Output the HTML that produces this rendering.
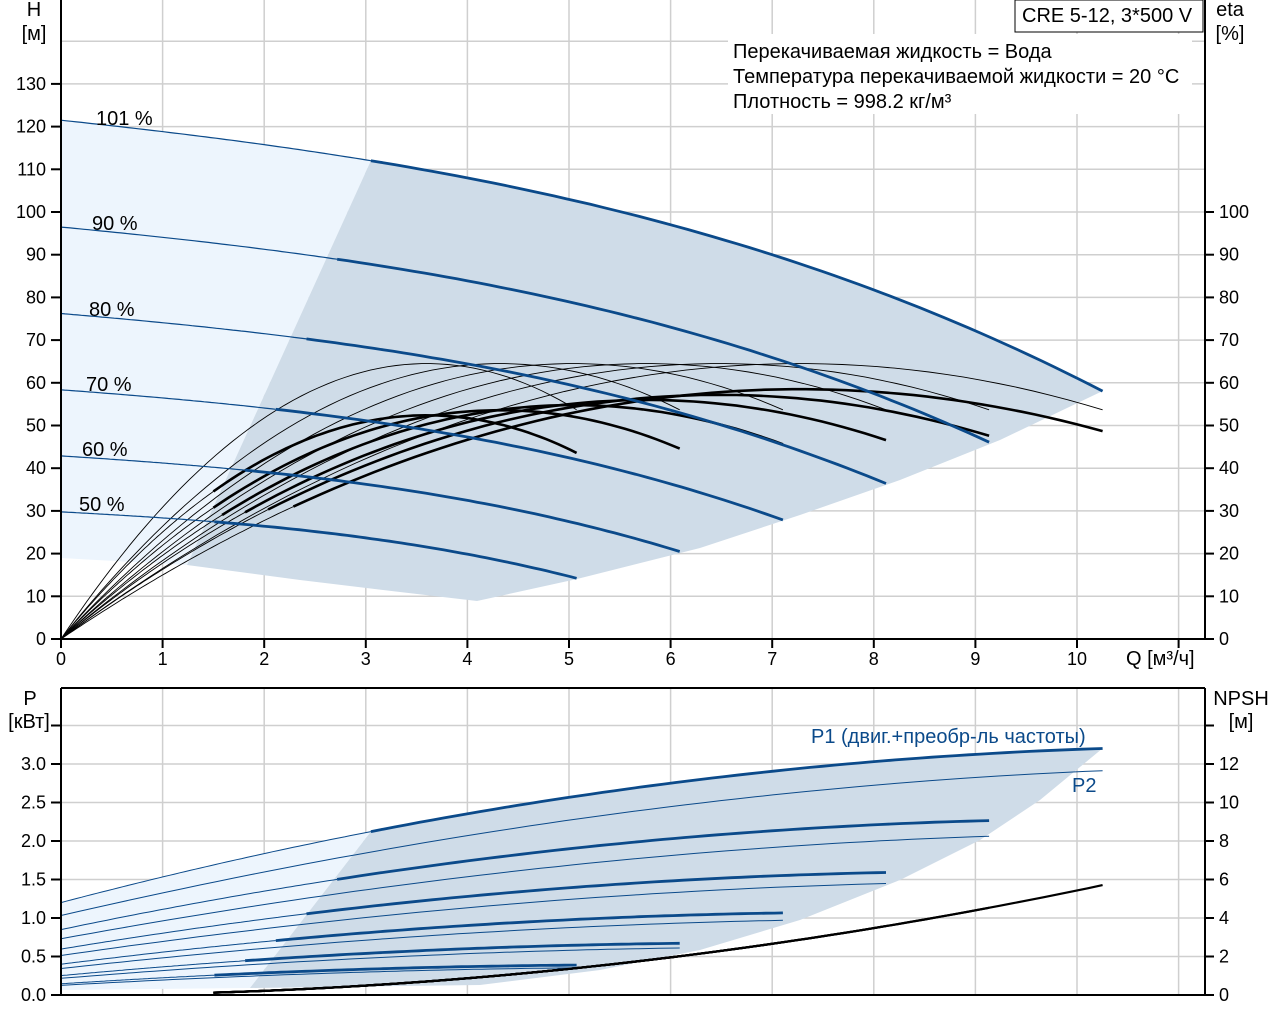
<!DOCTYPE html>
<html><head><meta charset="utf-8"><style>
html,body{margin:0;padding:0;background:#fff;width:1280px;height:1024px;overflow:hidden}
svg text{font-family:"Liberation Sans",Arial,sans-serif;font-size:20px;fill:#000}
svg text.t{font-size:18px}
</style></head><body>
<svg id="s" width="1280" height="1024" xmlns="http://www.w3.org/2000/svg"></svg>
<script>
const S=document.getElementById('s');let h='';
const X=q=>61+101.6*q, Y=v=>639-4.27*v, YP=p=>995-77*p, YN=n=>995-19.25*n;
function H1(x){return 119.1-2.506*x-0.119*x*x-0.02343*x*x*x}
function Hs(s,q){return s*s*H1(q/s)}
function P1(x){return 1.165+0.3409*x-0.01473*x*x}
function P2(x){return P1(x)*(0.86+0.05*x/10.15)}
function path(f,a,b,yf,n=60){let d='';for(let i=0;i<=n;i++){const q=a+(b-a)*i/n;d+=(i?'L':'M')+X(q).toFixed(1)+','+yf(f(q)).toFixed(1)}return d}
const sp=[1.01,0.9,0.8,0.7,0.6,0.5];
for(let i=0;i<=11;i++){h+=`<line x1="${X(i)}" y1="0" x2="${X(i)}" y2="639" stroke="#cfcfcf" stroke-width="1.5"/>`}
for(let v=10;v<=140;v+=10){h+=`<line x1="61" y1="${Y(v)}" x2="1205" y2="${Y(v)}" stroke="#cfcfcf" stroke-width="1.5"/>`}
let lt='M61,'+Y(Hs(1.01,0)).toFixed(1);for(let i=0;i<=30;i++){const q=3.05*i/30;lt+='L'+X(q).toFixed(1)+','+Y(Hs(1.01,q)).toFixed(1)}
lt+='L187,565L61,558Z';h+=`<path d="${lt}" fill="#edf5fd"/>`;
let dk='M'+X(3.05)+','+Y(Hs(1.01,3.05));for(let i=0;i<=40;i++){const q=3.05+(10.25-3.05)*i/40;dk+='L'+X(q).toFixed(1)+','+Y(Hs(1.01,q)).toFixed(1)}
dk+='L1000,440L900,480L800,515L700,548L577,579L477,601L400,592L300,580L187,565Z';h+=`<path d="${dk}" fill="#cfdce8"/>`;
h+=`<rect x="728" y="34" width="464" height="80" fill="#fff"/>`;
sp.forEach(s=>{const pk=64.5,p=7.2*s;h+=`<path d="${path(q=>pk*(1-Math.pow(1-q/p,2)),0,10.15*s,Y)}" fill="none" stroke="#000" stroke-width="0.9"/>`});
sp.forEach(s=>{const pk=58.5-(1.01-s)*12,p=7.2*s,f=q=>pk*(1-Math.pow(1-q/p,2)),st=Math.max(1.5,3.02*s*0.75);
h+=`<path d="${path(f,0,st,Y)}" fill="none" stroke="#000" stroke-width="0.9"/>`;
h+=`<path d="${path(f,st,10.15*s,Y)}" fill="none" stroke="#000" stroke-width="2.6"/>`});
sp.forEach(s=>{h+=`<path d="${path(q=>Hs(s,q),0,3.02*s,Y)}" fill="none" stroke="#0b4a8a" stroke-width="1.2"/>`;
h+=`<path d="${path(q=>Hs(s,q),3.02*s,10.15*s,Y)}" fill="none" stroke="#0b4a8a" stroke-width="2.8"/>`});
[['101 %',96,125],['90 %',92,230],['80 %',89,316],['70 %',86,391],['60 %',82,456],['50 %',79,511]].forEach(a=>h+=`<text x="${a[1]}" y="${a[2]}">${a[0]}</text>`);
h+=`<line x1="61" y1="0" x2="61" y2="640" stroke="#000" stroke-width="2"/><line x1="60" y1="639" x2="1206" y2="639" stroke="#000" stroke-width="2"/><line x1="1205" y1="0" x2="1205" y2="640" stroke="#000" stroke-width="2"/>`;
for(let v=0;v<=130;v+=10){h+=`<line x1="51" y1="${Y(v)}" x2="61" y2="${Y(v)}" stroke="#000" stroke-width="2"/><text class="t" x="46" y="${Y(v)+6}" text-anchor="end">${v}</text>`;
if(v<=100)h+=`<line x1="1205" y1="${Y(v)}" x2="1214" y2="${Y(v)}" stroke="#000" stroke-width="2"/><text class="t" x="1219" y="${Y(v)+6}">${v}</text>`}
for(let i=0;i<=11;i++){h+=`<line x1="${X(i)}" y1="639" x2="${X(i)}" y2="648" stroke="#000" stroke-width="2"/>`;if(i<=10)h+=`<text class="t" x="${X(i)}" y="665" text-anchor="middle">${i}</text>`}
h+=`<text x="1126" y="665">Q [м³/ч]</text><text x="34" y="16" text-anchor="middle">H</text><text x="34" y="40" text-anchor="middle">[м]</text>`;
h+=`<text x="1230" y="16" text-anchor="middle">eta</text><text x="1230" y="40" text-anchor="middle">[%]</text>`;
h+=`<rect x="1015" y="0" width="188" height="32" fill="#fff" stroke="#000" stroke-width="1"/><text x="1022" y="22">CRE 5-12, 3*500 V</text>`;
h+=`<text x="733" y="58">Перекачиваемая жидкость = Вода</text><text x="733" y="83">Температура перекачиваемой жидкости = 20 °C</text><text x="733" y="108">Плотность = 998.2 кг/м³</text>`;
for(let i=0;i<=11;i++){h+=`<line x1="${X(i)}" y1="688" x2="${X(i)}" y2="995" stroke="#cfcfcf" stroke-width="1.5"/>`}
for(let p=0.5;p<=3.5;p+=0.5){h+=`<line x1="61" y1="${YP(p)}" x2="1205" y2="${YP(p)}" stroke="#cfcfcf" stroke-width="1.5"/>`}
let lb='M61,'+YP(P1(0)*1.03);for(let i=0;i<=30;i++){const q=3.05*i/30;lb+='L'+X(q).toFixed(1)+','+YP(1.0303*P1(q/1.01)).toFixed(1)}
lb+='L250,988L61,990Z';h+=`<path d="${lb}" fill="#edf5fd"/>`;
let db='M'+X(3.05)+','+YP(1.0303*P1(3.05/1.01));for(let i=0;i<=40;i++){const q=3.05+(10.25-3.05)*i/40;db+='L'+X(q).toFixed(1)+','+YP(1.0303*P1(q/1.01)).toFixed(1)}
db+='L1040,800L980,840L900,880L800,920L700,950L600,970L480,985L250,988Z';h+=`<path d="${db}" fill="#cfdce8"/>`;
sp.forEach(s=>{const c=s*s*s;
h+=`<path d="${path(q=>c*P2(q/s),0,10.15*s,YP)}" fill="none" stroke="#0b4a8a" stroke-width="1"/>`;
h+=`<path d="${path(q=>c*P1(q/s),0,3.02*s,YP)}" fill="none" stroke="#0b4a8a" stroke-width="1"/>`;
h+=`<path d="${path(q=>c*P1(q/s),3.02*s,10.15*s,YP)}" fill="none" stroke="#0b4a8a" stroke-width="2.8"/>`;
h+=`<path d="${path(q=>0.0543*q*q,1.5,10.15*s,YN)}" fill="none" stroke="#000" stroke-width="2.2"/>`;});
h+=`<text x="811" y="743" style="fill:#0b4a8a">P1 (двиг.+преобр-ль частоты)</text><text x="1072" y="792" style="fill:#0b4a8a">P2</text>`;
h+=`<line x1="61" y1="688" x2="1205" y2="688" stroke="#000" stroke-width="2"/><line x1="61" y1="688" x2="61" y2="996" stroke="#000" stroke-width="2"/><line x1="1205" y1="688" x2="1205" y2="996" stroke="#000" stroke-width="2"/><line x1="60" y1="995" x2="1206" y2="995" stroke="#000" stroke-width="2"/>`;
for(let k=0;k<=7;k++){const p=k*0.5,y=YP(p);h+=`<line x1="51" y1="${y}" x2="61" y2="${y}" stroke="#000" stroke-width="2"/><line x1="1205" y1="${y}" x2="1214" y2="${y}" stroke="#000" stroke-width="2"/>`;
if(k<=6)h+=`<text class="t" x="46" y="${y+6}" text-anchor="end">${p.toFixed(1)}</text><text class="t" x="1219" y="${y+6}">${k*2}</text>`}
h+=`<text x="30" y="705" text-anchor="middle">P</text><text x="29" y="728" text-anchor="middle">[кВт]</text><text x="1241" y="705" text-anchor="middle">NPSH</text><text x="1241" y="728" text-anchor="middle">[м]</text>`;
S.innerHTML=h;
</script>
</body></html>
